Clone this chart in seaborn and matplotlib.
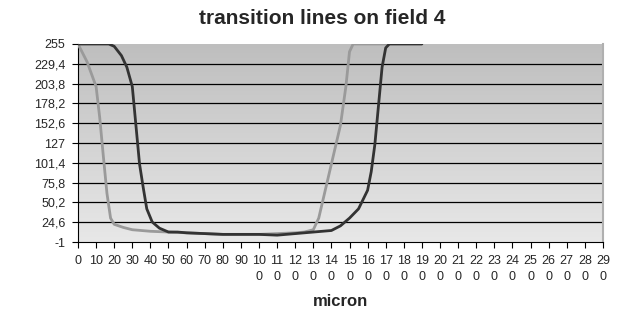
import numpy as np
import pandas as pd
import matplotlib
matplotlib.use("Agg")
import matplotlib.pyplot as plt
from matplotlib.colors import LinearSegmentedColormap
import seaborn as sns

# valori (micron, livello di grigio)
light_x = [0, 5, 10, 12, 14, 16, 18, 20, 25, 30, 40, 50, 60, 70, 80, 90, 100,
           110, 120, 125, 130, 133, 136, 140, 145, 148, 150, 152, 160, 170]
light_y = [255, 232, 200, 160, 110, 62, 30, 22, 18, 15, 13, 12, 11, 10, 9, 9, 9,
           10, 11, 12, 15, 30, 60, 100, 150, 200, 245, 255, 255, 255]

dark_x = [0, 10, 17, 20, 24, 27, 30, 32, 34, 36, 38, 41, 45, 50, 55, 60, 70, 80,
          90, 100, 110, 120, 130, 140, 145, 150, 155, 160, 162, 164, 166, 168,
          170, 172, 180, 190]
dark_y = [255, 255, 255, 252, 240, 225, 200, 150, 100, 70, 42, 25, 17, 12, 12,
          11, 10, 9, 9, 9, 8, 10, 12, 14, 20, 30, 42, 66, 90, 125, 175, 225,
          250, 255, 255, 255]

y_ticks = [-1, 24.6, 50.2, 75.8, 101.4, 127, 152.6, 178.2, 203.8, 229.4, 255]
x_ticks = list(range(0, 300, 10))

df = pd.concat([
    pd.DataFrame({"micron": light_x, "val": light_y, "serie": "chiaro"}),
    pd.DataFrame({"micron": dark_x, "val": dark_y, "serie": "scuro"}),
])

sns.set_style("ticks")
plt.rcParams["font.family"] = ["Liberation Sans", "DejaVu Sans"]

fig = plt.figure(figsize=(6.19, 3.12), dpi=100)
ax = fig.add_axes([0.126, 0.224, 0.848, 0.635])

# sfondo sfumato
cmap = LinearSegmentedColormap.from_list("grad", ["#bebebe", "#e8e8e8"])
ax.imshow(np.linspace(0, 1, 256).reshape(-1, 1), extent=[0, 290, -1, 255],
          aspect="auto", cmap=cmap, origin="upper", zorder=0)

for yt in y_ticks[1:-1]:
    ax.axhline(yt, color="black", lw=0.9, zorder=1)

sns.lineplot(data=df, x="micron", y="val", hue="serie",
             palette={"chiaro": "#9a9a9a", "scuro": "#333333"},
             lw=2, legend=False, ax=ax, zorder=3)

ax.set_xlim(0, 290)
ax.set_ylim(-1, 255)
ax.set_yticks(y_ticks)
ax.set_yticklabels([f"{v:g}".replace(".", ",") for v in y_ticks], fontsize=9)
ax.set_xticks(x_ticks)
ax.set_xticklabels([str(v) if v < 100 else f"{v // 10}\n0" for v in x_ticks],
                   fontsize=9, linespacing=1.45)
ax.tick_params(direction="out", length=4, width=0.8, color="black", pad=5)

ax.spines["top"].set_visible(False)
ax.spines["right"].set_color("#b0b0b0")
ax.spines["right"].set_linewidth(1.5)
ax.spines["left"].set_color("black")
ax.spines["bottom"].set_color("black")

ax.set_xlabel("micron", fontsize=12, fontweight="bold", labelpad=8)
ax.set_ylabel("")
fig.text(0.521, 0.94, "transition lines on field 4", fontsize=15,
         fontweight="bold", ha="center", va="center")

fig.savefig("out.png", dpi=100)
